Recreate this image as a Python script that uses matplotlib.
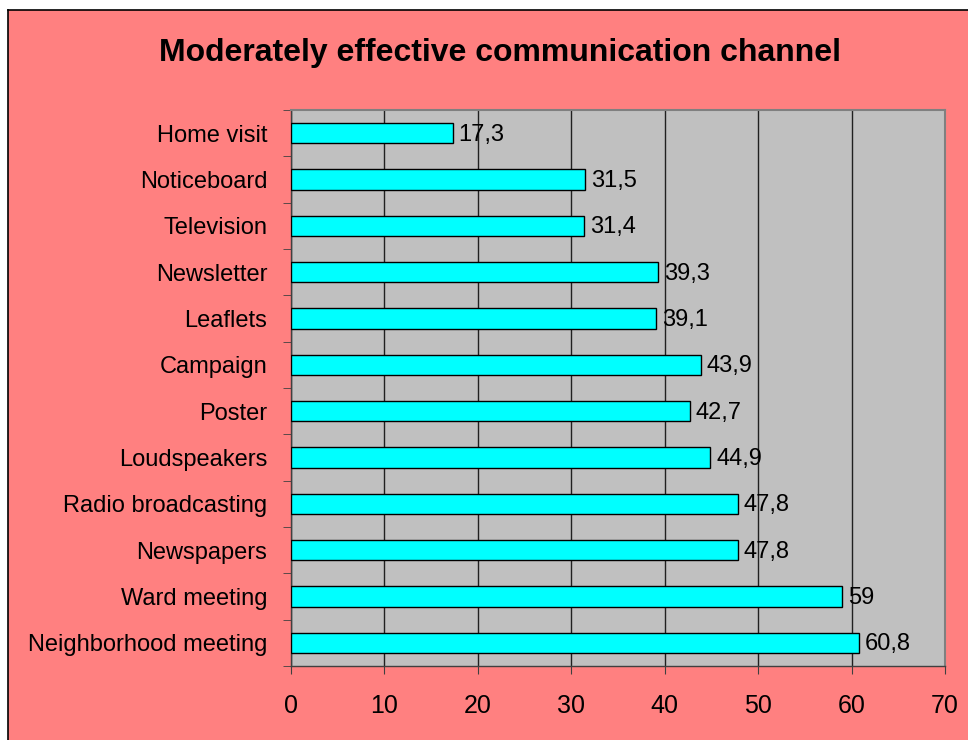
import matplotlib
matplotlib.use("Agg")
import matplotlib.pyplot as plt
from matplotlib.patches import Rectangle

categories = ["Home visit", "Noticeboard", "Television", "Newsletter", "Leaflets",
              "Campaign", "Poster", "Loudspeakers", "Radio broadcasting",
              "Newspapers", "Ward meeting", "Neighborhood meeting"]
values = [17.3, 31.5, 31.4, 39.3, 39.1, 43.9, 42.7, 44.9, 47.8, 47.8, 59, 60.8]
x_ticks = [0, 10, 20, 30, 40, 50, 60, 70]
title = "Moderately effective communication channel"

plt.rcParams["font.family"] = ["Liberation Sans", "DejaVu Sans"]

W, H = 968, 740
fig = plt.figure(figsize=(W / 100, H / 100), dpi=100)
fig.patch.set_facecolor("white")

# chart area background with black top/left border
bg = Rectangle((8 / W, 0), 1 - 8 / W, 1 - 10 / H, transform=fig.transFigure,
               facecolor="#FF8080", edgecolor="none", zorder=-10)
fig.patches.append(bg)
fig.add_artist(plt.Line2D([8 / W, 8 / W], [0, 1 - 10 / H], color="black", lw=1.2,
                          transform=fig.transFigure, zorder=-5))
fig.add_artist(plt.Line2D([8 / W, 1], [1 - 10 / H, 1 - 10 / H], color="black", lw=1.2,
                          transform=fig.transFigure, zorder=-5))

ax = fig.add_axes([291 / W, 1 - 666 / H, (945 - 291) / W, (666 - 110) / H])
ax.set_zorder(1)
ax.set_facecolor("#C0C0C0")

n = len(categories)
ypos = list(range(n))
ax.barh(ypos, values, height=0.44, color="#00FFFF", edgecolor="black", linewidth=1.0, zorder=3)
for y, v in zip(ypos, values):
    txt = f"{v:g}".replace(".", ",")
    ax.text(v + 0.6, y + 0.03, txt, va="center", ha="left", fontsize=17, zorder=4)

ax.set_xlim(0, 70)
ax.set_ylim(n - 0.5, -0.5)
ax.set_xticks(x_ticks)
ax.set_xticklabels([str(t) for t in x_ticks], fontsize=18)
ax.set_yticks(ypos)
ax.set_yticklabels(categories, fontsize=17)
ax.tick_params(axis="y", length=0, pad=17)
ax.set_yticks([i - 0.5 for i in range(n + 1)], minor=True)
ax.tick_params(axis="y", which="minor", length=6, direction="out", color="#404040")
ax.tick_params(axis="x", length=6, direction="out", pad=14, color="#404040")

ax.grid(axis="x", color="#202020", linewidth=1.0, zorder=1)
ax.set_axisbelow(True)

for s in ("top", "right"):
    ax.spines[s].set_color("#808080")
    ax.spines[s].set_linewidth(1.5)
for s in ("left", "bottom"):
    ax.spines[s].set_color("#404040")
    ax.spines[s].set_linewidth(1.0)

fig.text(0.517, 1 - 53 / H, title, ha="center", va="center", fontsize=23,
         fontweight="bold")

fig.savefig("out.png", dpi=100)
